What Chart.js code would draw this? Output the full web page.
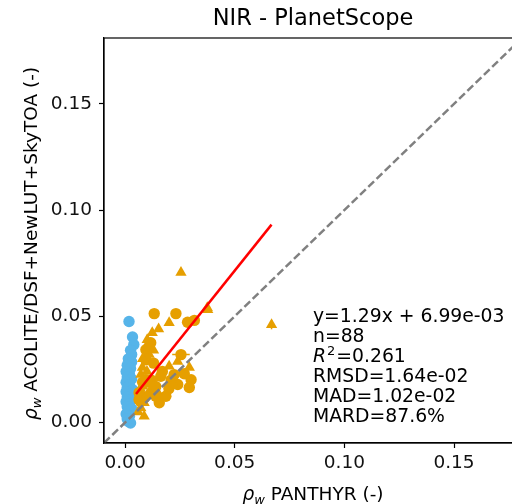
<!DOCTYPE html>
<html>
<head>
<meta charset="utf-8">
<script src="https://cdn.jsdelivr.net/npm/chart.js@4/dist/chart.umd.min.js"></script>
<style>
    html, body { margin: 0; padding: 0; background: #fff; overflow: hidden; }
    #wrap { width: 540px; height: 504px; }
</style>
</head>
<body>
<div id="wrap"><canvas id="chart" width="540" height="504"></canvas></div>
<script>
// values
const blueX = [0.0018, 0.0034, 0.0040, 0.0025, 0.0030, 0.0015, 0.0030, 0.0010, 0.0025, 0.0005,
    0.0020, 0.0010, 0.0030, 0.0005, 0.0020, 0.0010, 0.0035, 0.0005, 0.0020, 0.0010,
    0.0030, 0.0005, 0.0020, 0.0010, 0.0030, 0.0015, 0.0005, 0.0020, 0.0010, 0.0015, 0.0025];
const blueY = [0.0476, 0.0403, 0.0367, 0.0340, 0.0320, 0.0300, 0.0285, 0.0270, 0.0255, 0.0240,
    0.0228, 0.0215, 0.0205, 0.0190, 0.0178, 0.0165, 0.0155, 0.0145, 0.0132, 0.0120,
    0.0110, 0.0098, 0.0088, 0.0075, 0.0065, 0.0052, 0.0040, 0.0030, 0.0018, 0.0005, -0.0002];

const circX = [0.0133, 0.0232, 0.0285, 0.0316, 0.0117, 0.0095, 0.0110, 0.0095, 0.0255, 0.0170,
    0.0163, 0.0224, 0.0301, 0.0240, 0.0293, 0.0095, 0.0064, 0.0140, 0.0186, 0.0156,
    0.0064, 0.0125, 0.0080, 0.0090, 0.0120, 0.0140, 0.0200, 0.0210, 0.0270, 0.0130,
    0.0070];
const circY = [0.0513, 0.0513, 0.0472, 0.0481, 0.0376, 0.0343, 0.0359, 0.0296, 0.0320, 0.0241,
    0.0218, 0.0226, 0.0202, 0.0179, 0.0165, 0.0202, 0.0141, 0.0124, 0.0124, 0.0093,
    0.0108, 0.0147, 0.0190, 0.0120, 0.0200, 0.0170, 0.0160, 0.0200, 0.0230, 0.0280,
    0.0100];

const triX = [0.0377, 0.0201, 0.0153, 0.0124, 0.0101, 0.0110, 0.0240, 0.0201, 0.0293, 0.0079,
    0.0072, 0.0079, 0.0117, 0.0102, 0.0087, 0.0072, 0.0087, 0.0255, 0.0375, 0.0668,
    0.0070, 0.0080, 0.0100, 0.0060, 0.0150, 0.0220, 0.0130];
const triY = [0.0531, 0.0470, 0.0441, 0.0423, 0.0390, 0.0320, 0.0288, 0.0265, 0.0259, 0.0259,
    0.0226, 0.0171, 0.0179, 0.0132, 0.0093, 0.0069, 0.0030, 0.0706, 0.0540, 0.0461,
    0.0160, 0.0300, 0.0240, 0.0050, 0.0140, 0.0180, 0.0340];

// a few visible error bars (value, half-width)
const errX = [0.0018, 0.0668, 0.0255];
const errY = [0.0476, 0.0461, 0.0320];
const errDX = [0, 0, 0.0040];
const errDY = [0.0025, 0.0022, 0.0015];
const errColor = ['#56B4E9', '#E69F00', '#E69F00'];

const fitSlope = 1.29, fitIntercept = 0.00699;
const fitRange = [0.005, 0.0668];
const axisRange = [-0.0096, 0.181];
const tickValues = [0, 0.05, 0.10, 0.15];
const statLines = ['y=1.29x + 6.99e-03', 'n=88', 'R2=0.261', 'RMSD=1.64e-02', 'MAD=1.02e-02', 'MARD=87.6%'];

const FONT = '"DejaVu Sans", sans-serif';

function pts(xs, ys) {
    return xs.map((x, i) => ({x: x, y: ys[i]}));
}

// draws "ρ_w" + rest, centred on cx, baseline y
function rhoLabel(ctx, rest, cx, y) {
    ctx.font = 'italic 18.5px ' + FONT;
    let w1 = ctx.measureText('ρ').width;
    ctx.font = 'italic 13px ' + FONT;
    let w2 = ctx.measureText('w').width;
    ctx.font = '18.5px ' + FONT;
    let w3 = ctx.measureText(rest).width;
    let x = cx - (w1 + w2 + w3) / 2;
    ctx.textAlign = 'left';
    ctx.textBaseline = 'alphabetic';
    ctx.font = 'italic 18.5px ' + FONT;
    ctx.fillText('ρ', x, y);
    ctx.font = 'italic 13px ' + FONT;
    ctx.fillText('w', x + w1, y + 4);
    ctx.font = '18.5px ' + FONT;
    ctx.fillText(rest, x + w1 + w2, y);
}

const decorations = {
    id: 'decorations',
    beforeDatasetsDraw(chart) {
        const ctx = chart.ctx, xs = chart.scales.x, ys = chart.scales.y;
        ctx.save();
        ctx.lineWidth = 1.5;
        for (let i = 0; i < errX.length; i++) {
            ctx.strokeStyle = errColor[i];
            ctx.beginPath();
            if (errDY[i]) {
                ctx.moveTo(xs.getPixelForValue(errX[i]), ys.getPixelForValue(errY[i] - errDY[i]));
                ctx.lineTo(xs.getPixelForValue(errX[i]), ys.getPixelForValue(errY[i] + errDY[i]));
            }
            if (errDX[i]) {
                ctx.moveTo(xs.getPixelForValue(errX[i] - errDX[i]), ys.getPixelForValue(errY[i]));
                ctx.lineTo(xs.getPixelForValue(errX[i] + errDX[i]), ys.getPixelForValue(errY[i]));
            }
            ctx.stroke();
        }
        ctx.restore();
    },
    afterDraw(chart) {
        const ctx = chart.ctx, a = chart.chartArea;
        ctx.save();
        ctx.strokeStyle = '#000';
        ctx.lineWidth = 1.2;
        ctx.strokeRect(a.left, a.top, a.right - a.left, a.bottom - a.top);

        ctx.fillStyle = '#000';
        const cx = (a.left + a.right) / 2;
        ctx.font = '22.5px ' + FONT;
        ctx.textAlign = 'center';
        ctx.textBaseline = 'alphabetic';
        ctx.fillText('NIR - PlanetScope', cx, 25);

        rhoLabel(ctx, ' PANTHYR (-)', cx, 500);

        ctx.save();
        ctx.translate(37, (a.top + a.bottom) / 2 + 3);
        ctx.rotate(-Math.PI / 2);
        rhoLabel(ctx, ' ACOLITE/DSF+NewLUT+SkyTOA (-)', 0, 0);
        ctx.restore();

        // stats block
        ctx.textAlign = 'left';
        let sx = 313, sy = 321.5;
        statLines.forEach((line, i) => {
            let y = sy + i * 20;
            if (line.startsWith('R2')) {
                ctx.font = 'italic 18.8px ' + FONT;
                ctx.fillText('R', sx, y);
                let w = ctx.measureText('R').width;
                ctx.font = '13px ' + FONT;
                ctx.fillText('2', sx + w + 1, y - 7);
                let w2 = ctx.measureText('2').width;
                ctx.font = '18.8px ' + FONT;
                ctx.fillText(line.slice(2), sx + w + w2 + 2, y);
            } else {
                ctx.font = '18.8px ' + FONT;
                ctx.fillText(line, sx, y);
            }
        });
        ctx.restore();
    }
};

const axisCommon = {
    type: 'linear',
    min: axisRange[0],
    max: axisRange[1],
    afterBuildTicks: (scale) => { scale.ticks = tickValues.map(v => ({value: v})); },
    grid: {drawOnChartArea: false, drawTicks: true, tickLength: 5, color: '#000', tickWidth: 1.2},
    border: {display: true, color: '#000', width: 1.2},
    title: {display: false}
};

new Chart(document.getElementById('chart'), {
    type: 'scatter',
    data: {
        datasets: [
            {
                type: 'line',
                data: pts(axisRange, axisRange),
                borderColor: '#808080',
                borderWidth: 2.5,
                borderDash: [8, 3.5],
                pointRadius: 0,
                order: 0
            },
            {
                type: 'line',
                data: pts(fitRange, fitRange.map(x => fitSlope * x + fitIntercept)),
                borderColor: '#ff0000',
                borderWidth: 2.5,
                pointRadius: 0,
                order: 1
            },
            {
                data: pts(triX, triY),
                pointStyle: 'triangle',
                pointRadius: 6.5,
                backgroundColor: '#E69F00',
                borderColor: '#E69F00',
                borderWidth: 0,
                order: 2
            },
            {
                data: pts(circX, circY),
                pointStyle: 'circle',
                pointRadius: 5.7,
                backgroundColor: '#E69F00',
                borderColor: '#E69F00',
                borderWidth: 0,
                order: 3
            },
            {
                data: pts(blueX, blueY),
                pointStyle: 'circle',
                pointRadius: 5.7,
                backgroundColor: '#56B4E9',
                borderColor: '#56B4E9',
                borderWidth: 0,
                order: 4
            }
        ]
    },
    options: {
        responsive: false,
        animation: false,
        events: [],
        layout: {padding: {top: 38, left: 0, right: 18, bottom: 0}},
        plugins: {legend: {display: false}, tooltip: {enabled: false}, title: {display: false}},
        scales: {
            x: Object.assign({}, axisCommon, {
                position: 'bottom',
                afterFit: (scale) => { scale.height = 61; },
                ticks: {color: '#111', font: {family: FONT, size: 18.5}, padding: 4,
                    callback: (v) => v.toFixed(2)}
            }),
            y: Object.assign({}, axisCommon, {
                position: 'left',
                afterFit: (scale) => { scale.width = 104; },
                ticks: {color: '#111', font: {family: FONT, size: 18.5}, padding: 7,
                    callback: (v) => v.toFixed(2)}
            })
        }
    },
    plugins: [decorations]
});
</script>
</body>
</html>
